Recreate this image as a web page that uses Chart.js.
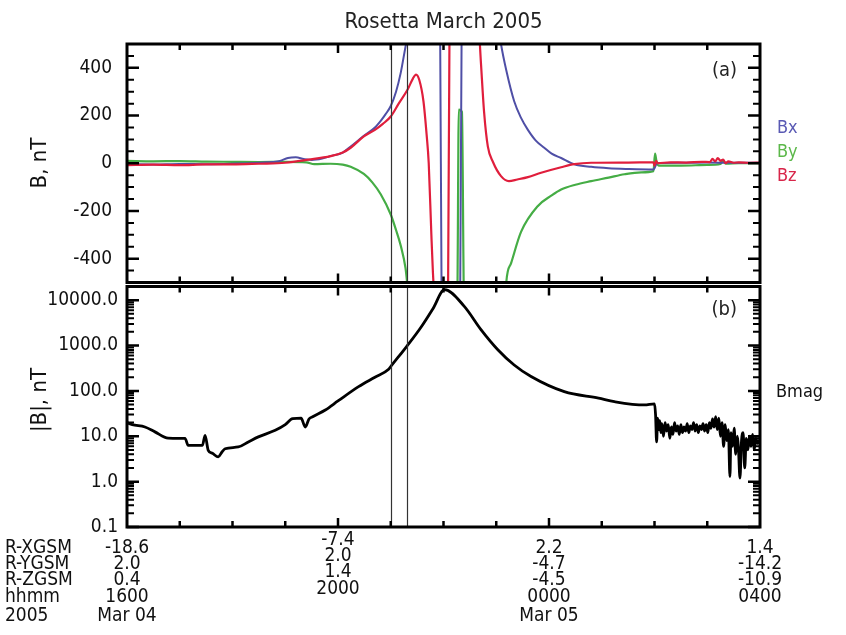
<!DOCTYPE html>
<html>
<head>
<meta charset="utf-8">
<script src="https://cdn.jsdelivr.net/npm/chart.js@4.4.1/dist/chart.umd.min.js"></script>
<style>
  body { margin: 0; background: #fff; }
  #wrap { position: relative; width: 846px; height: 635px; }
  canvas { position: absolute; left: 0; }
</style>
</head>
<body>
<div id="wrap">
  <canvas id="compChart" width="846" height="285" style="top:0;width:846px;height:285px"></canvas>
  <canvas id="magChart" width="846" height="350" style="top:285px;width:846px;height:350px"></canvas>
</div>
<script>
// time axis is UT hours counted from 00:00 Mar 04 (24 = 0000 Mar 05)
const bxTime = [16.0, 16.5, 17.0, 17.5, 18.0, 18.5, 18.9, 19.05, 19.2, 19.35, 19.5, 19.7, 19.86, 20.09, 20.24, 20.49, 20.7, 20.81, 20.9, 21.0, 21.1, 21.19, 21.29, 21.6, 21.935, 21.965, 22.1, 22.315, 22.345, 22.7, 23.05, 23.09, 23.19, 23.34, 23.47, 23.6, 23.75, 23.91, 24.05, 24.23, 24.48, 24.8, 25.13, 25.5, 25.98, 26.05, 26.5, 27.0, 27.5, 28.0];
const bxVal  = [-4, -5, -3, -4, -2, 2, 10, 22, 25, 18, 14, 20, 30, 45, 70, 115, 150, 178, 205, 240, 300, 380, 500, 800, 600, -600, -800, -600, 600, 800, 560, 500, 390, 260, 190, 140, 95, 65, 40, 22, -4, -15, -21, -24, -26, 0, 2, 3, 2, 2];

const byTime = [16.0, 16.5, 17.0, 17.5, 18.0, 18.5, 19.0, 19.4, 19.55, 19.86, 20.09, 20.24, 20.49, 20.65, 20.81, 21.0, 21.1, 21.19, 21.28, 21.36, 21.8, 22.26, 22.29, 22.35, 22.39, 22.8, 23.17, 23.19, 23.28, 23.47, 23.79, 24.05, 24.23, 24.5, 24.8, 25.13, 25.43, 25.75, 25.98, 26.01, 26.04, 26.08, 26.5, 27.0, 27.25, 27.3, 27.35, 27.6, 28.0];
const byVal  = [10, 8, 9, 7, 6, 5, 6, 4, -4, -2, -6, -15, -45, -80, -130, -215, -280, -346, -440, -600, -800, -600, 225, 215, -600, -800, -600, -500, -420, -288, -179, -135, -110, -90, -75, -60, -46, -38, -33, 40, 5, -10, -10, -7, -3, 12, -2, 0, 0];

const bzTime = [16.0, 16.5, 17.0, 17.5, 18.0, 18.5, 19.0, 19.44, 19.86, 20.09, 20.24, 20.49, 20.7, 20.85, 21.0, 21.15, 21.32, 21.42, 21.48, 21.54, 21.62, 21.68, 21.72, 21.77, 21.8, 21.84, 21.95, 22.085, 22.115, 22.4, 22.66, 22.71, 22.77, 22.84, 22.94, 23.09, 23.24, 23.4, 23.6, 23.85, 24.23, 24.48, 24.8, 25.5, 25.98, 26.0, 26.03, 26.06, 26.3, 26.6, 26.9, 27.05, 27.1, 27.15, 27.2, 27.25, 27.3, 27.35, 27.4, 27.5, 27.6, 27.8, 28.0];
const bzVal  = [-8, -6, -8, -5, -5, -2, 2, 15, 30, 45, 65, 113, 140, 165, 196, 250, 309, 355, 372, 350, 260, 120, 0, -300, -460, -600, -800, -600, 600, 800, 600, 420, 213, 71, 4, -54, -75, -68, -58, -40, -17, -4, 2, 3, 4, -10, 10, 0, 4, 3, 6, 5, 18, 8, 22, 10, 15, 0, 8, 2, 4, 2, 3];

const bmagTime = [16.0, 16.1, 16.34, 16.53, 16.78, 17.0, 17.1, 17.16, 17.43, 17.48, 17.54, 17.62, 17.73, 17.8, 17.86, 18.11, 18.3, 18.49, 18.81, 19.0, 19.14, 19.3, 19.38, 19.45, 19.52, 19.76, 20.0, 20.39, 20.7, 20.96, 21.0, 21.3, 21.57, 21.8, 22.02, 22.39, 22.71, 23.03, 23.34, 23.66, 24.29, 24.94, 25.24, 25.81, 26.0,
  26.02, 26.04, 26.06, 26.08, 26.1, 26.12, 26.14, 26.17, 26.2, 26.23, 26.26, 26.29, 26.32, 26.35, 26.38, 26.41, 26.44, 26.47, 26.5, 26.53, 26.56, 26.59, 26.62, 26.65, 26.68, 26.71, 26.74, 26.77, 26.8, 26.83, 26.86, 26.89, 26.92, 26.95, 26.98, 27.01, 27.04, 27.07, 27.1, 27.13, 27.16, 27.19, 27.22, 27.25, 27.28, 27.31, 27.34, 27.37, 27.4, 27.43, 27.45, 27.48, 27.51, 27.54, 27.57, 27.59, 27.62, 27.65, 27.68, 27.71, 27.74, 27.77, 27.8, 27.83, 27.86, 27.89, 27.92, 27.95, 27.98, 28.0];
const bmagVal  = [20, 18, 16, 12.5, 9.1, 9, 9, 6.3, 6.3, 10.5, 4.9, 4.2, 3.5, 4.5, 5.3, 5.8, 7.5, 9.7, 13.5, 18, 24.5, 25, 16, 24, 27, 38, 60, 124, 200, 300, 345, 950, 2500, 6500, 17000, 7400, 2250, 810, 372, 207, 96, 69, 58, 49, 52,
  30, 7.5, 25, 14, 22, 12, 19, 10, 20, 13, 18, 9, 16, 11, 20, 13, 17, 11, 18, 12, 16, 13, 19, 12, 17, 14, 20, 13, 18, 12, 17, 14, 19, 13, 18, 12, 20, 15, 24, 16, 27, 14, 25, 10, 20, 6, 18, 8, 14, 1.3, 12, 6, 15, 4, 10, 6, 1.2, 8, 12, 2, 9, 5, 10, 6, 11, 5, 9, 7, 8, 8];

// the two vertical marker lines (UT hours)
const markerTimes = [21.0, 21.3];

// hour ticks and the orbit table under the time axis
const labelHours = [16, 20, 24, 28];
const rowNames = ['R-XGSM', 'R-YGSM', 'R-ZGSM', 'hhmm', '2005'];
const rxgsm = ['-18.6', '-7.4', '2.2', '1.4'];
const rygsm = ['2.0', '2.0', '-4.7', '-14.2'];
const rzgsm = ['0.4', '1.4', '-4.5', '-10.9'];
const hhmm = ['1600', '2000', '0000', '0400'];
const dates = ['Mar 04', '', 'Mar 05', ''];

const compTicks = [-400, -200, 0, 200, 400];
const magTicks = [0.1, 1, 10, 100, 1000, 10000];

const FONT = '"Liberation Sans Narrow", "DejaVu Sans Condensed", "Open Sans", sans-serif';
const COL = { bx: '#4f4fa6', by: '#45ad45', bz: '#e01e3c' };

function pts(t, v) {
    return t.map((x, i) => ({ x: x, y: v[i] }));
}

function text(ctx, s, x, y, size, color, align) {
    ctx.font = size + 'px ' + FONT;
    ctx.fillStyle = color || '#111';
    ctx.textAlign = align || 'left';
    ctx.textBaseline = 'middle';
    ctx.fillText(s, x, y);
}

// fixed left gutter, and no extra room for the end tick labels
function fixAxis(s) {
    s.width = 127;
    s.paddingTop = 0;
    s.paddingBottom = 0;
}

const decor = {
    id: 'decor',
    afterDatasetsDraw(chart) {
        const ctx = chart.ctx, a = chart.chartArea;
        const xs = chart.scales.x, ys = chart.scales.y;
        const isTop = chart.canvas.id === 'compChart';
        ctx.save();

        // marker lines
        ctx.strokeStyle = '#333';
        ctx.lineWidth = 1.2;
        markerTimes.forEach(t => {
            const px = Math.round(xs.getPixelForValue(t)) + 0.5;
            ctx.beginPath(); ctx.moveTo(px, a.top); ctx.lineTo(px, a.bottom); ctx.stroke();
        });

        // inward ticks
        ctx.strokeStyle = '#000';
        ctx.lineWidth = 2.5;
        for (let h = 17; h < 28; h++) {
            const px = xs.getPixelForValue(h);
            const len = labelHours.includes(h) ? 9 : 6;
            ctx.beginPath();
            ctx.moveTo(px, a.top); ctx.lineTo(px, a.top + len);
            ctx.moveTo(px, a.bottom); ctx.lineTo(px, a.bottom - len);
            ctx.stroke();
        }
        let majors, minors = [];
        if (isTop) {
            majors = compTicks;
            for (let v = -450; v <= 450; v += 50) if (v % 200 !== 0) minors.push(v);
        } else {
            majors = magTicks;
            magTicks.forEach(d => { for (let k = 2; k <= 9; k++) if (d * k <= ys.max) minors.push(d * k); });
        }
        majors.forEach(v => {
            const py = ys.getPixelForValue(v);
            ctx.beginPath();
            ctx.moveTo(a.left, py); ctx.lineTo(a.left + 12, py);
            ctx.moveTo(a.right, py); ctx.lineTo(a.right - 12, py);
            ctx.stroke();
        });
        ctx.lineWidth = 2;
        minors.forEach(v => {
            const py = ys.getPixelForValue(v);
            ctx.beginPath();
            ctx.moveTo(a.left, py); ctx.lineTo(a.left + 7, py);
            ctx.moveTo(a.right, py); ctx.lineTo(a.right - 7, py);
            ctx.stroke();
        });

        // frame
        ctx.lineWidth = 3;
        ctx.strokeRect(a.left, a.top, a.right - a.left, a.bottom - a.top);

        if (isTop) {
            text(ctx, 'Rosetta March 2005', (a.left + a.right) / 2, 22, 22, '#222', 'center');
            text(ctx, '(a)', 737, 71, 20, '#222', 'right');
            text(ctx, 'Bx', 777, 128, 18, '#5a5ab4');
            text(ctx, 'By', 777, 152, 18, '#5cb84a');
            text(ctx, 'Bz', 777, 176, 18, '#d8264a');
            ctx.save();
            ctx.translate(40, 163); ctx.rotate(-Math.PI / 2);
            text(ctx, 'B, nT', 0, 0, 22, '#111', 'center');
            ctx.restore();
        } else {
            text(ctx, '(b)', 737, 25, 20, '#222', 'right');
            text(ctx, 'Bmag', 776, 107, 18, '#111');
            ctx.save();
            ctx.translate(40, 115); ctx.rotate(-Math.PI / 2);
            text(ctx, '|B|, nT', 0, 0, 22, '#111', 'center');
            ctx.restore();

            // orbit table under the time axis
            const rowY = [263, 279, 295, 312, 331];
            const cols = [rxgsm, rygsm, rzgsm, hhmm, dates];
            rowNames.forEach((n, r) => text(ctx, n, 5, rowY[r], 19, '#111'));
            labelHours.forEach((h, c) => {
                const px = xs.getPixelForValue(h);
                const shift = c === 1 ? -8 : 0;
                cols.forEach((col, r) => {
                    if (col[c]) text(ctx, col[c], px, rowY[r] + shift, 19, '#111', 'center');
                });
            });
        }
        ctx.restore();
    }
};

const tickFont = { family: FONT, size: 19 };

new Chart(document.getElementById('compChart').getContext('2d'), {
    type: 'line',
    data: {
        datasets: [
            { label: 'Bz', data: pts(bzTime, bzVal), borderColor: COL.bz, borderWidth: 2.2 },
            { label: 'Bx', data: pts(bxTime, bxVal), borderColor: COL.bx, borderWidth: 2 },
            { label: 'By', data: pts(byTime, byVal), borderColor: COL.by, borderWidth: 2.2 }
        ]
    },
    options: {
        responsive: false,
        animation: false,
        parsing: false,
        elements: { point: { radius: 0 }, line: { cubicInterpolationMode: 'monotone' } },
        layout: { padding: { top: 44, right: 86, bottom: 2.5, left: 0 } },
        plugins: { legend: { display: false }, tooltip: { enabled: false } },
        scales: {
            x: { type: 'linear', min: 16, max: 28, display: false },
            y: {
                min: -500, max: 500,
                grid: { display: false, drawTicks: false },
                border: { display: false },
                afterBuildTicks: s => { s.ticks = compTicks.map(v => ({ value: v })); },
                afterFit: fixAxis,
                ticks: { font: tickFont, color: '#111', padding: 15, callback: v => String(v) }
            }
        }
    },
    plugins: [decor]
});

new Chart(document.getElementById('magChart').getContext('2d'), {
    type: 'line',
    data: {
        datasets: [
            { label: 'Bmag', data: pts(bmagTime, bmagVal), borderColor: '#000', borderWidth: 2.8 }
        ]
    },
    options: {
        responsive: false,
        animation: false,
        parsing: false,
        elements: { point: { radius: 0 }, line: { cubicInterpolationMode: 'monotone' } },
        layout: { padding: { top: 1.5, right: 86, bottom: 108, left: 0 } },
        plugins: { legend: { display: false }, tooltip: { enabled: false } },
        scales: {
            x: { type: 'linear', min: 16, max: 28, display: false },
            y: {
                type: 'logarithmic',
                min: 0.1, max: 20000,
                grid: { display: false, drawTicks: false },
                border: { display: false },
                afterBuildTicks: s => { s.ticks = magTicks.map(v => ({ value: v })); },
                afterFit: fixAxis,
                ticks: { font: tickFont, color: '#111', padding: 9, callback: v => Number(v).toFixed(1) }
            }
        }
    },
    plugins: [decor]
});
</script>
</body>
</html>
